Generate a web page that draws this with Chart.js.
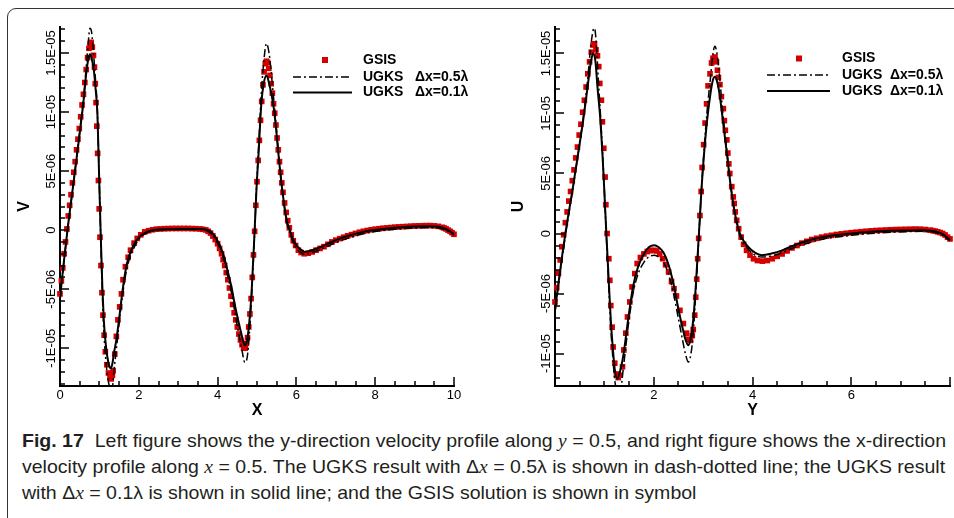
<!DOCTYPE html>
<html>
<head>
<meta charset="utf-8">
<script src="https://cdn.jsdelivr.net/npm/chart.js@4.4.0/dist/chart.umd.min.js"></script>
<style>
  body { margin: 0; width: 954px; height: 518px; overflow: hidden; background: #fff; position: relative; }
  .frame { position: absolute; left: 7px; top: 8px; width: 990px; height: 560px; border: 1px solid #333; border-radius: 9px; }
  canvas { position: absolute; top: 0; }
  #chartV { left: 0; }
  #chartU { left: 477px; }
  .cap { position: absolute; left: 22px; top: 428px; font-family: "Liberation Sans Narrow", "Liberation Sans", Arial, sans-serif;
         font-size: 18.5px; line-height: 26px; color: #231f20; white-space: nowrap; transform-origin: 0 0; }
  .cap div { display: block; }
  .cap i { font-family: "Liberation Serif", serif; }
</style>
</head>
<body>
<div class="frame"></div>
<canvas id="chartV" width="477" height="420"></canvas>
<canvas id="chartU" width="477" height="420"></canvas>
<div class="cap" id="cap">
  <div><span id="capLine1"><b>Fig. 17</b>&nbsp; Left figure shows the y-direction velocity profile along <i>y</i> = 0.5, and right figure shows the x-direction</span></div>
  <div>velocity profile along <i>x</i> = 0.5. The UGKS result with Δ<i>x</i> = 0.5λ is shown in dash-dotted line; the UGKS result</div>
  <div>with Δ<i>x</i> = 0.1λ is shown in solid line; and the GSIS solution is shown in symbol</div>
</div>
<script>
// values are in units of 1E-06
const FONT = '"Liberation Sans", Arial, Helvetica, sans-serif';

const yTicks = [-10, -5, 0, 5, 10, 15];
const yTickLabels = ['-1E-05', '-5E-06', '0', '5E-06', '1E-05', '1.5E-05'];
const xTicksV = [0, 2, 4, 6, 8, 10];
const xTicksU = [2, 4, 6];

// ---- left: V along y = 0.5 ----
const vUgks01 = [[0,-5.8],[0.1,-2.6],[0.2,0.3],[0.3,2.9],[0.4,5.5],[0.5,8.2],[0.6,11.0],[0.67,13.4],[0.72,14.5],[0.76,14.9],
  [0.8,14.6],[0.86,13.5],[0.9,12.1],[0.95,9.8],[0.99,4.9],[1.03,0],[1.075,-4.8],[1.11,-7.5],[1.15,-9.3],[1.2,-10.7],
  [1.25,-11.5],[1.29,-11.7],[1.33,-11.3],[1.37,-10.4],[1.43,-9.3],[1.515,-7.1],[1.6,-4.8],[1.7,-2.8],[1.85,-1.4],[2.02,-0.55],
  [2.23,-0.12],[2.5,0.05],[3.0,0.1],[3.5,0.1],[3.76,0],[3.94,-0.57],[4.14,-2.0],[4.25,-3.4],[4.35,-4.8],[4.43,-6.2],
  [4.52,-7.6],[4.62,-9.0],[4.69,-9.75],[4.75,-9.3],[4.81,-7.6],[4.87,-4.8],[4.94,0],[4.99,3.7],[5.04,6.5],[5.11,10.7],
  [5.17,12.4],[5.24,13.1],[5.31,12.4],[5.41,10.7],[5.475,8.9],[5.53,6.9],[5.6,4.6],[5.66,2.9],[5.75,0.9],[5.83,0],
  [5.96,-1.1],[6.13,-1.7],[6.21,-1.85],[6.4,-1.7],[6.6,-1.45],[6.8,-1.15],[7.0,-0.85],[7.3,-0.5],[7.7,-0.15],[8.1,0.05],
  [8.5,0.2],[9.0,0.3],[9.4,0.33],[9.6,0.28],[9.76,0.14],[9.9,-0.1],[10.0,-0.35]];

const vUgks05 = [[0,-5.9],[0.1,-2.7],[0.2,0.2],[0.3,2.9],[0.4,5.6],[0.5,8.4],[0.6,11.3],[0.67,14.0],[0.72,16.0],[0.76,17.1],
  [0.8,16.8],[0.86,14.6],[0.9,12.8],[0.95,10.0],[0.99,5.0],[1.03,-0.2],[1.075,-5.4],[1.11,-8.4],[1.15,-10.5],[1.2,-12.2],
  [1.25,-13.2],[1.29,-13.7],[1.33,-13.4],[1.37,-11.9],[1.43,-10.1],[1.515,-7.5],[1.6,-5.2],[1.7,-3.2],[1.85,-1.7],[2.02,-0.7],
  [2.23,-0.2],[2.5,0],[3.0,0.05],[3.5,0.05],[3.76,-0.1],[3.94,-0.75],[4.14,-2.3],[4.25,-3.8],[4.35,-5.3],[4.43,-6.8],
  [4.52,-8.5],[4.62,-10.2],[4.69,-11.2],[4.75,-10.8],[4.81,-8.6],[4.87,-5.2],[4.94,-0.2],[4.99,3.8],[5.04,7.0],[5.11,11.6],
  [5.17,14.2],[5.24,15.8],[5.31,14.9],[5.41,11.6],[5.475,9.3],[5.53,7.2],[5.6,4.7],[5.66,2.9],[5.75,0.7],[5.83,-0.2],
  [5.96,-1.35],[6.13,-1.95],[6.21,-2.05],[6.4,-1.9],[6.6,-1.65],[6.8,-1.35],[7.0,-1.05],[7.3,-0.7],[7.7,-0.3],[8.1,-0.07],
  [8.5,0.08],[9.0,0.18],[9.4,0.22],[9.6,0.18],[9.76,0.05],[9.9,-0.18],[10.0,-0.42]];

const vGsis = [[0,-5.4],[0.035,-4.3],[0.07,-3.2],[0.105,-2.0],[0.14,-1.0],[0.175,0.1],[0.21,1.2],[0.245,2.1],[0.28,3.0],
  [0.315,4.0],[0.35,4.9],[0.385,5.8],[0.42,6.8],[0.455,7.7],[0.49,8.6],[0.525,9.6],[0.56,10.6],[0.595,11.5],[0.63,12.5],
  [0.665,13.6],[0.7,14.6],[0.735,15.4],[0.77,15.8],[0.79,15.9],[0.82,15.5],[0.85,14.8],[0.875,13.8],[0.895,12.4],[0.915,10.8],
  [0.935,8.8],[0.955,6.5],[0.975,4.2],[0.995,1.8],[1.015,-0.6],[1.04,-3.0],[1.065,-5.3],[1.09,-7.2],[1.12,-8.9],[1.15,-10.3],
  [1.19,-11.4],[1.23,-12.1],[1.27,-12.5],[1.3,-12.6],[1.33,-12.3],[1.35,-11.9],[1.39,-10.5],[1.43,-9.0],[1.47,-7.6],[1.515,-6.5],
  [1.56,-5.4],[1.6,-4.2],[1.66,-3.1],[1.73,-2.3],[1.79,-1.7],[1.88,-1.1],[1.96,-0.7],[2.05,-0.4],[2.15,-0.15],[2.25,-0.05],
  [2.35,0.03],[2.45,0.08],[2.55,0.1],[2.65,0.12],[2.75,0.13],[2.85,0.14],[2.95,0.14],[3.05,0.14],[3.15,0.14],[3.25,0.14],
  [3.35,0.13],[3.45,0.12],[3.55,0.1],[3.62,0.07],[3.7,0.02],[3.76,-0.1],[3.82,-0.25],[3.88,-0.5],[3.94,-0.8],[4.0,-1.15],
  [4.05,-1.55],[4.1,-2.0],[4.14,-2.5],[4.18,-3.0],[4.22,-3.6],[4.26,-4.2],[4.3,-4.9],[4.34,-5.6],[4.38,-6.3],[4.42,-7.0],
  [4.46,-7.6],[4.5,-8.2],[4.54,-8.8],[4.58,-9.3],[4.62,-9.7],[4.66,-10.0],[4.7,-10.0],[4.73,-9.6],[4.76,-9.1],[4.79,-8.2],
  [4.82,-7.1],[4.85,-5.8],[4.88,-4.0],[4.91,-2.1],[4.94,-0.1],[4.97,2.1],[5.0,4.1],[5.03,5.9],[5.06,7.6],[5.09,9.3],
  [5.12,10.9],[5.15,12.3],[5.18,13.4],[5.21,14.1],[5.24,14.3],[5.27,14.2],[5.3,13.7],[5.33,13.1],[5.36,12.4],[5.39,11.6],
  [5.42,10.7],[5.45,9.9],[5.48,8.9],[5.51,7.8],[5.54,6.8],[5.57,5.8],[5.6,4.9],[5.63,4.0],[5.66,3.2],[5.7,2.3],
  [5.74,1.5],[5.78,0.8],[5.82,0.2],[5.87,-0.4],[5.92,-0.9],[5.98,-1.3],[6.05,-1.7],[6.12,-1.9],[6.2,-2.0],[6.3,-1.95],
  [6.4,-1.85],[6.5,-1.7],[6.6,-1.55],[6.7,-1.4],[6.8,-1.2],[6.9,-1.0],[7.0,-0.85],[7.1,-0.72],[7.2,-0.6],[7.3,-0.48],
  [7.4,-0.38],[7.5,-0.28],[7.6,-0.18],[7.7,-0.1],[7.8,-0.03],[7.9,0.03],[8.0,0.08],[8.1,0.12],[8.2,0.16],[8.3,0.19],
  [8.4,0.22],[8.5,0.25],[8.6,0.27],[8.7,0.29],[8.8,0.31],[8.9,0.33],[9.0,0.35],[9.1,0.36],[9.2,0.37],[9.3,0.38],
  [9.4,0.38],[9.5,0.36],[9.6,0.32],[9.7,0.24],[9.75,0.18],[9.8,0.1],[9.85,0],[9.9,-0.1],[9.95,-0.22],[10.0,-0.35]];

// ---- right: U along x = 0.5 ----
const uUgks01 = [[0,-6.4],[0.06,-4.45],[0.15,-1.7],[0.21,0],[0.365,3.9],[0.47,6.7],[0.57,9.4],[0.66,12.2],[0.72,14.1],[0.77,15.0],
  [0.82,14.3],[0.86,12.2],[0.92,9.4],[0.96,6.7],[0.995,3.9],[1.04,0],[1.095,-4.45],[1.13,-7.2],[1.18,-10.0],[1.21,-11.3],
  [1.26,-12.1],[1.31,-11.6],[1.39,-10.0],[1.48,-7.2],[1.58,-4.45],[1.68,-2.8],[1.8,-1.7],[1.9,-1.15],[2.01,-0.97],[2.1,-1.15],
  [2.2,-1.6],[2.3,-2.6],[2.4,-4.2],[2.5,-6.3],[2.58,-7.8],[2.64,-8.8],[2.7,-9.3],[2.75,-8.7],[2.8,-7.2],[2.85,-4.45],
  [2.915,0],[2.97,3.9],[3.02,6.7],[3.08,9.4],[3.15,11.7],[3.2,12.8],[3.24,13.05],[3.28,12.7],[3.33,11.7],[3.4,9.4],
  [3.48,6.7],[3.56,3.9],[3.645,1.67],[3.745,0],[3.91,-1.1],[4.05,-1.6],[4.19,-1.8],[4.4,-1.65],[4.6,-1.4],[4.8,-1.05],
  [5.0,-0.75],[5.2,-0.5],[5.44,-0.28],[5.8,-0.08],[6.11,0.05],[6.5,0.16],[6.79,0.22],[7.1,0.26],[7.46,0.28],[7.6,0.24],
  [7.74,0.14],[7.85,-0.05],[7.94,-0.33],[8.0,-0.5]];

const uUgks05 = [[0,-6.5],[0.06,-4.6],[0.15,-1.9],[0.21,-0.2],[0.365,3.8],[0.47,6.7],[0.57,9.6],[0.66,12.8],[0.72,15.4],[0.77,16.9],
  [0.8,17.1],[0.84,15.6],[0.88,12.6],[0.92,10.0],[0.96,7.0],[0.995,4.0],[1.04,-0.3],[1.095,-5.0],[1.13,-7.9],[1.18,-10.8],
  [1.21,-12.2],[1.26,-13.2],[1.31,-13.4],[1.39,-11.0],[1.48,-7.8],[1.58,-5.0],[1.68,-3.4],[1.8,-2.4],[1.9,-1.95],[2.01,-1.8],
  [2.1,-1.95],[2.2,-2.4],[2.3,-3.4],[2.4,-5.0],[2.5,-7.1],[2.58,-8.8],[2.64,-10.0],[2.7,-10.7],[2.75,-10.1],[2.8,-8.3],
  [2.85,-5.0],[2.915,-0.2],[2.97,3.9],[3.02,7.0],[3.08,10.2],[3.15,13.0],[3.2,15.0],[3.24,15.6],[3.28,15.0],[3.33,13.2],
  [3.4,10.0],[3.48,7.0],[3.56,4.0],[3.645,1.5],[3.745,-0.2],[3.91,-1.3],[4.05,-1.8],[4.19,-1.95],[4.4,-1.85],[4.6,-1.6],
  [4.8,-1.25],[5.0,-0.95],[5.2,-0.7],[5.44,-0.45],[5.8,-0.25],[6.11,-0.1],[6.5,0.03],[6.79,0.1],[7.1,0.15],[7.46,0.18],
  [7.6,0.15],[7.74,0.05],[7.85,-0.15],[7.94,-0.42],[8.0,-0.6]];

const uGsis = [[0,-5.7],[0.035,-4.5],[0.07,-3.3],[0.105,-2.2],[0.14,-1.1],[0.175,-0.1],[0.21,0.9],[0.245,1.8],[0.28,2.7],
  [0.315,3.5],[0.35,4.4],[0.385,5.3],[0.42,6.3],[0.455,7.2],[0.49,8.2],[0.525,9.1],[0.56,10.1],[0.595,11.1],[0.63,12.2],
  [0.665,13.3],[0.7,14.3],[0.735,15.1],[0.77,15.7],[0.8,15.8],[0.83,15.3],[0.86,14.8],[0.886,13.9],[0.907,12.5],[0.94,11.1],
  [0.96,9.3],[0.988,7.1],[1.015,4.7],[1.03,2.4],[1.055,0],[1.09,-2.1],[1.11,-3.9],[1.13,-6.0],[1.157,-7.8],[1.177,-9.45],
  [1.21,-10.8],[1.245,-11.7],[1.28,-12.0],[1.31,-11.8],[1.367,-11.1],[1.394,-9.7],[1.434,-8.3],[1.468,-6.95],[1.515,-5.7],[1.56,-4.45],
  [1.617,-3.34],[1.664,-2.5],[1.73,-2.0],[1.8,-1.7],[1.87,-1.5],[1.94,-1.42],[2.0,-1.4],[2.06,-1.45],[2.12,-1.7],[2.18,-2.1],
  [2.24,-2.6],[2.3,-3.2],[2.36,-4.0],[2.41,-4.6],[2.46,-5.2],[2.53,-6.4],[2.6,-7.5],[2.665,-8.3],[2.7,-8.8],[2.745,-8.9],
  [2.78,-8.5],[2.8,-8.0],[2.83,-6.8],[2.85,-5.3],[2.87,-3.8],[2.89,-2.1],[2.91,-0.4],[2.935,1.5],[2.96,3.5],[2.98,5.5],
  [3.01,7.4],[3.04,9.2],[3.07,10.8],[3.1,12.3],[3.14,13.3],[3.17,14.2],[3.2,14.6],[3.24,14.7],[3.27,14.3],[3.29,13.6],
  [3.31,13.0],[3.34,12.4],[3.37,11.4],[3.41,10.4],[3.43,9.4],[3.45,8.6],[3.48,7.8],[3.5,6.7],[3.52,5.8],[3.54,5.0],
  [3.58,3.9],[3.61,3.05],[3.63,2.5],[3.65,1.8],[3.68,1.1],[3.72,0.4],[3.77,-0.3],[3.82,-0.9],[3.88,-1.4],[3.95,-1.8],
  [4.02,-2.1],[4.1,-2.25],[4.2,-2.3],[4.3,-2.25],[4.4,-2.1],[4.5,-1.9],[4.6,-1.7],[4.7,-1.45],[4.8,-1.2],[4.9,-1.0],
  [5.0,-0.8],[5.1,-0.65],[5.2,-0.5],[5.3,-0.4],[5.4,-0.3],[5.5,-0.22],[5.6,-0.15],[5.7,-0.08],[5.8,-0.03],[5.9,0.02],
  [6.0,0.07],[6.1,0.11],[6.2,0.15],[6.3,0.19],[6.4,0.22],[6.5,0.25],[6.6,0.27],[6.7,0.29],[6.8,0.31],[6.9,0.33],
  [7.0,0.34],[7.1,0.35],[7.2,0.36],[7.3,0.37],[7.4,0.36],[7.5,0.33],[7.6,0.28],[7.65,0.24],[7.7,0.2],[7.75,0.14],
  [7.8,0.08],[7.85,0],[7.9,-0.12],[7.95,-0.3],[8.0,-0.45]];

const toXY = arr => arr.map(p => ({ x: p[0], y: p[1] }));

// Tecplot-like inward ticks, rotated y labels and the in-plot legend
const tecplot = {
  id: 'tecplot',
  afterDraw(chart, args, o) {
    const { ctx, chartArea: a } = chart;
    const xs = chart.scales.x, ys = chart.scales.y;
    ctx.save();
    ctx.strokeStyle = '#000';
    ctx.lineWidth = 1.5;
    ctx.beginPath();
    for (let v = o.xMinorFrom; v <= xs.max + 1e-9; v += 0.5) {
      const major = Math.abs(v / 2 - Math.round(v / 2)) < 1e-6;
      const px = Math.round(xs.getPixelForValue(v));
      ctx.moveTo(px, a.bottom);
      ctx.lineTo(px, a.bottom - (major ? 9 : 5));
    }
    for (let v = Math.ceil(ys.min); v <= ys.max; v += 1) {
      const py = Math.round(ys.getPixelForValue(v));
      ctx.moveTo(a.left, py);
      ctx.lineTo(a.left + (v % 5 === 0 ? 9 : 5), py);
    }
    ctx.stroke();

    ctx.fillStyle = '#000';
    ctx.font = '13px ' + FONT;
    ctx.textAlign = 'center';
    ctx.textBaseline = 'middle';
    yTicks.forEach((v, i) => {
      ctx.save();
      ctx.translate(a.left - 9, ys.getPixelForValue(v));
      ctx.rotate(-Math.PI / 2);
      ctx.fillText(yTickLabels[i], 0, 0);
      ctx.restore();
    });

    // legend
    const L = o.legend;
    const ds = chart.data.datasets;
    const gsis = ds[2], coarse = ds[1], fine = ds[0];
    ctx.fillStyle = gsis.backgroundColor;
    ctx.fillRect(L.square - 3, L.rows[0] - 3, 6, 6);
    ctx.strokeStyle = '#000';
    ctx.lineWidth = coarse.borderWidth;
    ctx.setLineDash(coarse.borderDash);
    ctx.beginPath(); ctx.moveTo(L.line[0], L.rows[1]); ctx.lineTo(L.line[1], L.rows[1]); ctx.stroke();
    ctx.setLineDash([]);
    ctx.lineWidth = fine.borderWidth;
    ctx.beginPath(); ctx.moveTo(L.line[0], L.rows[2]); ctx.lineTo(L.line[1], L.rows[2]); ctx.stroke();
    ctx.fillStyle = '#000';
    ctx.font = 'bold 14px ' + FONT;
    ctx.textAlign = 'left';
    [gsis, coarse, fine].forEach((d, i) => {
      const parts = d.label.split('  ');
      ctx.fillText(parts[0], L.text, L.rows[i]);
      if (parts[1]) ctx.fillText(parts[1], L.delta, L.rows[i]);
    });
    ctx.restore();
  }
};

function makeChart(id, c) {
  return new Chart(document.getElementById(id), {
    type: 'scatter',
    data: {
      datasets: [
        { label: 'UGKS  Δx=0.1λ', data: toXY(c.fine), showLine: true, borderColor: '#000', borderWidth: 2,
          pointRadius: 0, cubicInterpolationMode: 'monotone', order: 1 },
        { label: 'UGKS  Δx=0.5λ', data: toXY(c.coarse), showLine: true, borderColor: '#000', borderWidth: 1.5,
          borderDash: [8, 3, 2, 3], pointRadius: 0, cubicInterpolationMode: 'monotone', order: 2 },
        { label: 'GSIS', data: toXY(c.gsis), showLine: false, pointStyle: 'rect', pointRadius: 4,
          backgroundColor: '#d40000', borderWidth: 0, clip: false, order: 3 }
      ]
    },
    options: {
      responsive: false,
      animation: false,
      events: [],
      layout: { padding: { left: 0, top: 27, right: c.padRight, bottom: 0 } },
      plugins: {
        legend: { display: false },
        tooltip: { enabled: false },
        tecplot: { xMinorFrom: c.xMinorFrom, legend: c.legend }
      },
      scales: {
        x: {
          type: 'linear', min: c.xMin, max: c.xMax,
          afterBuildTicks: s => { s.ticks = c.xTicks.map(v => ({ value: v })); },
          afterFit: s => { s.height = 34; },
          grid: { display: false, drawTicks: false },
          border: { display: true, color: '#000', width: 2 },
          ticks: { color: '#000', font: { size: 13, family: FONT }, padding: 2, maxRotation: 0, autoSkip: false,
                   callback: v => String(v) },
          title: { display: true, text: c.xTitle, color: '#000', font: { size: 16, weight: 'bold', family: FONT },
                   padding: { top: 0, bottom: 0 } }
        },
        y: {
          type: 'linear', min: c.yMin, max: c.yMax,
          afterFit: s => { s.width = c.yWidth; },
          grid: { display: false, drawTicks: false },
          border: { display: true, color: '#000', width: 2 },
          ticks: { display: false },
          title: { display: true, text: c.yTitle, color: '#000', font: { size: 16, weight: 'bold', family: FONT },
                   padding: { top: c.yTitlePad, bottom: 0 } }
        }
      }
    },
    plugins: [tecplot]
  });
}

makeChart('chartV', {
  fine: vUgks01, coarse: vUgks05, gsis: vGsis,
  xMin: 0, xMax: 10, yMin: -13.2, yMax: 17.2, xTicks: xTicksV, xMinorFrom: 0,
  xTitle: 'X', yTitle: 'V', yWidth: 60, yTitlePad: 14.5, padRight: 23,
  legend: { square: 325, line: [293, 352], text: 363, delta: 415, rows: [60, 77, 92.5] }
});

makeChart('chartU', {
  fine: uUgks01, coarse: uUgks05, gsis: uGsis,
  xMin: 0, xMax: 8, yMin: -12.7, yMax: 17.2, xTicks: xTicksU, xMinorFrom: 0.5,
  xTitle: 'Y', yTitle: 'U', yWidth: 78, yTitlePad: 31.5, padRight: 4,
  legend: { square: 322, line: [290, 353], text: 365, delta: 413, rows: [58.5, 75, 91] }
});

// squeeze the caption to the width of the original text block
const cap = document.getElementById('cap');
const w1 = document.getElementById('capLine1').getBoundingClientRect().width;
cap.style.transform = 'scaleX(' + (924 / w1) + ')';
</script>
</body>
</html>
